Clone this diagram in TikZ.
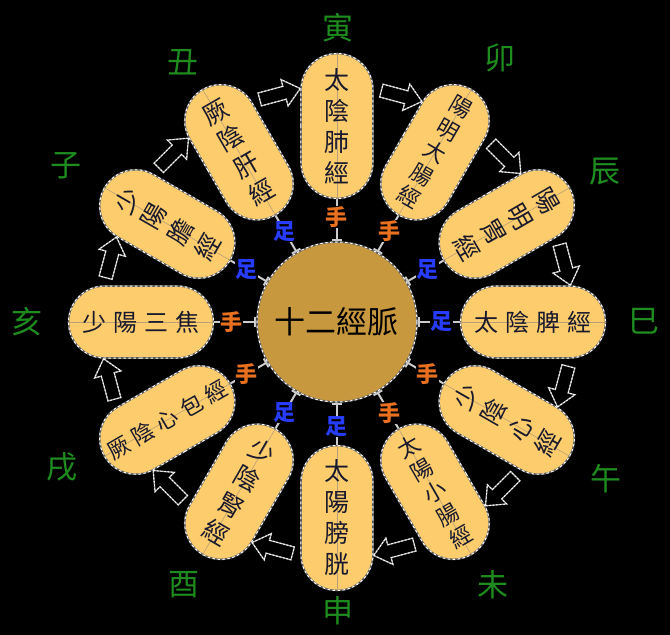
\documentclass[tikz,border=0pt]{standalone}
\usepackage{fontspec}
\usepackage{xcolor}
\usepackage{tikz}
\usetikzlibrary{shapes.misc, shapes.arrows, arrows.meta}

\newfontfamily\cjk{Noto Sans CJK TC}
\newfontfamily\cjkwide[LetterSpace = 28]{Noto Sans CJK TC}

\definecolor{capsulefill}{RGB}{253,204,108}
\definecolor{hubfill}{RGB}{200,152,62}
\definecolor{branchgreen}{RGB}{30,140,30}
\definecolor{handorange}{RGB}{232,112,30}
\definecolor{footblue}{RGB}{40,60,255}
\definecolor{inkdark}{RGB}{25,25,45}
\definecolor{axisgray}{RGB}{185,160,120}

\tikzset{
	dashed rim/.style = {draw = black!65, line width = 1.6pt, postaction = {draw = white, line width = 1pt, dash pattern = on 2.5pt off 2.5pt}},
	hub/.style = {circle, minimum size = 160pt, inner sep = 0pt, fill = hubfill, dashed rim, font = \cjk\fontsize{31}{31}\selectfont},
	capsule/.style = {rounded rectangle, minimum width = 145pt, minimum height = 72pt, inner sep = 0pt, fill = capsulefill, dashed rim},
	axis line/.style = {draw = axisgray, line width = 0.6pt},
	link/.style = {draw = black!20, line width = 2pt, {Bar[width = 10pt]}-},
	vtext/.style = {align = center, inner sep = 0pt, text = inkdark, font = \cjk\fontsize{25}{31}\selectfont},
	vsmall/.style = {vtext, font = \cjk\fontsize{22}{26}\selectfont},
	htext/.style = {inner sep = 0pt, text = inkdark, font = \cjkwide\fontsize{24}{24}\selectfont},
	hsmall/.style = {htext, font = \cjkwide\fontsize{22}{22}\selectfont},
	hand/.style = {fill = black, inner sep = 0.5pt, text = handorange, font = \cjk\bfseries\fontsize{22}{22}\selectfont, node contents = 手},
	foot/.style = {fill = black, inner sep = 0.5pt, text = footblue, font = \cjk\bfseries\fontsize{22}{22}\selectfont, node contents = 足},
	flow/.style = {single arrow, minimum height = 42pt, inner sep = 6pt, single arrow head extend = 7pt, single arrow tip angle = 80, fill = black, draw = black!35, line width = 1.3pt, postaction = {draw = white, line width = 0.9pt, dash pattern = on 2pt off 1.5pt}},
	branch/.style = {text = branchgreen, font = \cjk\fontsize{31}{31}\selectfont},
}

\begin{document}
\begin{tikzpicture}[x = 1pt, y = 1pt]
		\def\R{196};
		\def\rl{105};
		\def\rf{235};
		
		\useasboundingbox (-337,-313) rectangle (333,322);
		\fill[black] (-337,-313) rectangle (333,322);
		
		\node[hub] (hub) at (0,0) {十二經脈};
		
		% the twelve meridians, clockwise from the top
		\foreach \i/\txt/\rot/\kind/\limb in {
			0/{太\\陰\\肺\\經}/0/vtext/hand,
			1/{陽\\明\\大\\腸\\經}/-30/vsmall/hand,
			2/{陽\\明\\胃\\經}/-60/vtext/foot,
			3/{太陰脾經}/0/htext/foot,
			4/{少\\陰\\心\\經}/60/vtext/hand,
			5/{太\\陽\\小\\腸\\經}/30/vsmall/hand,
			6/{太\\陽\\膀\\胱}/0/vtext/foot,
			7/{少\\陰\\腎\\經}/-30/vtext/foot,
			8/{厥陰心包經}/30/hsmall/hand,
			9/{少陽三焦}/0/htext/hand,
			10/{少\\陽\\膽\\經}/60/vtext/foot,
			11/{厥\\陰\\肝\\經}/30/vtext/foot%
		}{
			\pgfmathtruncatemacro\a{90-30*\i}
			\node[capsule, rotate = \a] (cap\i) at (\a:\R) {};
			\draw[axis line] (cap\i.west) -- (cap\i.east);
			\draw[link] (hub) -- (cap\i);
			\node[name = limb\i, at = {(\a:\rl)}, \limb];
			\node[\kind, rotate = \rot] (name\i) at (cap\i) {\txt};
		}
		
		% flow between neighbours
		\foreach \i in {0,...,11}{
			\pgfmathtruncatemacro\b{75-30*\i}
			\node[flow, rotate = \b-90] (flow\i) at (\b:\rf) {};
		}
		
		% earthly branches
		\foreach \x/\y/\z [count = \k] in {1/294/寅, 163/264/卯, 268/150/辰, 307/1/巳, 269/-157/午, 156/-263/未, 1/-289/申, -153/-263/酉, -275/-145/戌, -310/0/亥, -271/156/子, -154/260/丑}
			\node[branch] (branch\k) at (\x,\y) {\z};
	\end{tikzpicture}
\end{document}
